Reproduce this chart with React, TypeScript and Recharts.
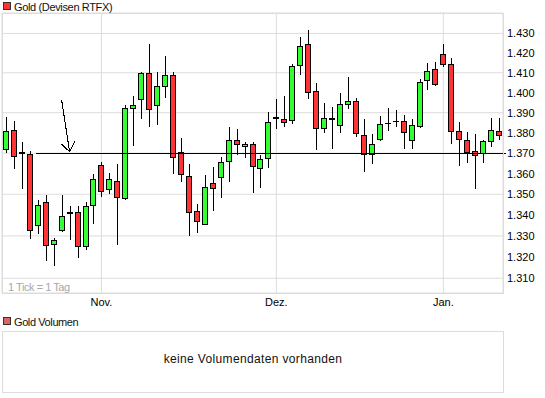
import React from "react";
import { ComposedChart, Bar, XAxis, YAxis, CartesianGrid, ReferenceLine } from "recharts";

const dates = [
  "14.10.", "15.10.", "18.10.", "19.10.", "20.10.", "21.10.", "22.10.", "25.10.", "26.10.", "27.10.", "28.10.", "29.10.",
  "01.11.", "02.11.", "03.11.", "04.11.", "05.11.", "08.11.", "09.11.", "10.11.", "11.11.", "12.11.", "15.11.", "16.11.",
  "17.11.", "18.11.", "19.11.", "22.11.", "23.11.", "24.11.", "25.11.", "26.11.", "29.11.", "30.11.",
  "01.12.", "02.12.", "03.12.", "06.12.", "07.12.", "08.12.", "09.12.", "10.12.", "13.12.", "14.12.", "15.12.", "16.12.",
  "17.12.", "20.12.", "21.12.", "22.12.", "23.12.", "27.12.", "28.12.", "29.12.", "30.12.",
  "03.01.", "04.01.", "05.01.", "06.01.", "07.01.", "10.01.", "11.01.", "12.01.",
];

const openP = [
  1.3722, 1.3812, 1.3707, 1.3697, 1.3353, 1.3461, 1.3263, 1.333, 1.3408, 1.3414, 1.3253, 1.3447,
  1.3644, 1.3527, 1.3566, 1.3482, 1.3921, 1.3966, 1.41, 1.3936, 1.4035, 1.409, 1.3705, 1.359,
  1.3419, 1.3358, 1.3556, 1.3585, 1.3663, 1.3767, 1.3737, 1.3747, 1.3629, 1.3677,
  1.3872, 1.3867, 1.3862, 1.4141, 1.4248, 1.401, 1.3822, 1.3873, 1.3837, 1.3944, 1.3959, 1.3787,
  1.3697, 1.3772, 1.3851, 1.3859, 1.3857, 1.3767, 1.3835, 1.4063, 1.412,
  1.4193, 1.4146, 1.3807, 1.3767, 1.3712, 1.37, 1.3758, 1.3807,
];
const highP = [
  1.3878, 1.3858, 1.3753, 1.3712, 1.347, 1.3495, 1.3289, 1.3495, 1.3444, 1.3443, 1.3463, 1.3597,
  1.3655, 1.3602, 1.3645, 1.3938, 1.3985, 1.4105, 1.4248, 1.4105, 1.4183, 1.4105, 1.3773, 1.3648,
  1.3453, 1.3592, 1.3631, 1.3679, 1.3828, 1.3818, 1.3753, 1.3753, 1.369, 1.3903,
  1.397, 1.3985, 1.4142, 1.4281, 1.4317, 1.4047, 1.3948, 1.3928, 1.3998, 1.408, 1.3974, 1.3868,
  1.3792, 1.3882, 1.3923, 1.3913, 1.3887, 1.3868, 1.407, 1.4149, 1.4154,
  1.4245, 1.4176, 1.3853, 1.3802, 1.3792, 1.3767, 1.3872, 1.3873,
];
const lowP = [
  1.37, 1.3623, 1.3526, 1.3285, 1.3309, 1.3181, 1.3156, 1.3319, 1.3281, 1.3194, 1.3232, 1.3356,
  1.3488, 1.35, 1.3258, 1.3472, 1.3735, 1.387, 1.383, 1.384, 1.3974, 1.3598, 1.356, 1.33,
  1.3314, 1.3352, 1.3417, 1.3482, 1.356, 1.369, 1.3676, 1.3506, 1.3529, 1.3627,
  1.382, 1.383, 1.3843, 1.4088, 1.3969, 1.3715, 1.38, 1.372, 1.38, 1.392, 1.378, 1.3608,
  1.3647, 1.376, 1.381, 1.383, 1.372, 1.372, 1.3823, 1.4013, 1.4033,
  1.4128, 1.3745, 1.3637, 1.365, 1.3524, 1.3653, 1.3732, 1.3767,
];
const closeP = [
  1.3808, 1.3687, 1.3702, 1.333, 1.3447, 1.3258, 1.3282, 1.3395, 1.3413, 1.3253, 1.3444, 1.3576,
  1.3518, 1.3576, 1.3487, 1.3921, 1.3936, 1.41, 1.3916, 1.4035, 1.409, 1.3682, 1.36, 1.3414,
  1.3372, 1.3537, 1.3532, 1.3658, 1.3767, 1.3747, 1.3747, 1.3635, 1.3673, 1.3852,
  1.3877, 1.3852, 1.4136, 1.4238, 1.4005, 1.3822, 1.3875, 1.3868, 1.3941, 1.3959, 1.3797, 1.3694,
  1.3747, 1.3842, 1.3851, 1.3859, 1.3802, 1.3837, 1.4055, 1.411, 1.4045,
  1.4146, 1.3807, 1.3772, 1.3707, 1.369, 1.3758, 1.3812, 1.379,
];

const yTicks = [1.31, 1.32, 1.33, 1.34, 1.35, 1.36, 1.37, 1.38, 1.39, 1.4, 1.41, 1.42, 1.43];
const yDomain = [1.3031, 1.4405];
const monthTicks = ["01.11.", "01.12.", "03.01."];
const monthLabels = ["Nov.", "Dez.", "Jan."];
const markerLevel = 1.37;
const arrowFrom = { date: "25.10.", price: 1.3963 };
const arrowTo = { date: "26.10.", price: 1.3707 };

const data = dates.map((d, i) => ({
  date: d,
  open: openP[i],
  high: highP[i],
  low: lowP[i],
  close: closeP[i],
}));

const FONT = '"Liberation Sans", Arial, Helvetica, sans-serif';
const UP = "#33ff33";
const DOWN = "#ff3333";
const GRID = "#dcdcdc";

function Candle(props: any) {
  const { x, y, width, height, payload } = props;
  if (!payload) return null;
  const { open, high, low, close } = payload;
  const top = Math.min(y, y + height);
  const h = Math.abs(height);
  const lh = Math.log(high);
  const lr = lh - Math.log(low);
  const toY = (v: number) => top + ((lh - Math.log(v)) / lr) * h;
  const cx = Math.round(x + width / 2);
  const left = cx - 3;
  const yTop = Math.round(toY(Math.max(open, close)));
  const yBot = Math.round(toY(Math.min(open, close)));
  const bH = yBot - yTop;
  const up = close >= open;
  return (
    <g shapeRendering="crispEdges">
      <line x1={cx + 0.5} x2={cx + 0.5} y1={Math.round(top)} y2={Math.round(top + h)} stroke="#000" strokeWidth={1} />
      {bH >= 1 ? (
        <rect x={left + 0.5} y={yTop + 0.5} width={5} height={bH} fill={up ? UP : DOWN} stroke="#000" strokeWidth={1} />
      ) : (
        <line x1={left} x2={left + 6} y1={yTop + 0.5} y2={yTop + 0.5} stroke="#000" strokeWidth={1} />
      )}
    </g>
  );
}

const monthFormatter = (v: string) => {
  const i = monthTicks.indexOf(v);
  return i >= 0 ? monthLabels[i] : "";
};

export default function App() {
  return (
    <div style={{ position: "absolute", left: 0, top: 0, width: 545, height: 398, background: "#fff", fontFamily: FONT }}>
      <div style={{ position: "absolute", left: 0, top: 0 }}>
        <ComposedChart
          width={545}
          height={320}
          data={data}
          margin={{ top: 13, right: 0, bottom: 0, left: 2 }}
          barCategoryGap={0}
        >
          <CartesianGrid stroke={GRID} strokeWidth={1} />
          <XAxis
            dataKey="date"
            ticks={monthTicks}
            interval={0}
            tickFormatter={monthFormatter}
            tickLine={false}
            axisLine={false}
            tickSize={0}
            tickMargin={5}
            height={27}
            tick={{ fontSize: 11, fill: "#000", fontFamily: FONT }}
          />
          <YAxis
            orientation="right"
            scale="log"
            domain={yDomain}
            ticks={yTicks}
            allowDataOverflow
            width={42}
            tickLine={false}
            axisLine={false}
            tickSize={0}
            tickMargin={4}
            tickFormatter={(v: number) => v.toFixed(3)}
            tick={{ fontSize: 11, fill: "#000", fontFamily: FONT, textAnchor: "start" }}
          />
          <Bar
            dataKey={(d: any) => [d.low, d.high]}
            isAnimationActive={false}
            shape={(p: any) => <Candle {...p} />}
          />
          <ReferenceLine
            y={markerLevel}
            ifOverflow="visible"
            shape={(p: any) => (
              <line
                x1={p.x1 + 3}
                x2={p.x2 + 34}
                y1={Math.round(p.y1) + 0.5}
                y2={Math.round(p.y2) + 0.5}
                stroke="#000"
                strokeWidth={1}
                shapeRendering="crispEdges"
              />
            )}
          />
          <ReferenceLine
            segment={[
              { x: arrowFrom.date, y: arrowFrom.price },
              { x: arrowTo.date, y: arrowTo.price },
            ]}
            ifOverflow="visible"
            shape={(p: any) => (
              <g stroke="#000" strokeWidth={1} fill="none" shapeRendering="crispEdges">
                <line x1={p.x1} y1={p.y1} x2={p.x2} y2={p.y2} />
                <line x1={p.x2} y1={p.y2} x2={p.x2 - 8} y2={p.y2 - 7.5} />
                <line x1={p.x2} y1={p.y2} x2={p.x2 + 5.5} y2={p.y2 - 11} />
              </g>
            )}
          />
        </ComposedChart>
      </div>
      <svg
        width={545}
        height={398}
        style={{ position: "absolute", left: 0, top: 0, pointerEvents: "none" }}
        fontFamily={FONT}
      >
        <rect x={2.5} y={13.5} width={501} height={280} fill="none" stroke={GRID} shapeRendering="crispEdges" />
        <rect x={3.5} y={2.5} width={7} height={7} fill={DOWN} stroke="#333" shapeRendering="crispEdges" />
        <text x={14} y={10.5} fontSize={11} fill="#111" style={{ letterSpacing: "-0.35px" }}>Gold (Devisen RTFX)</text>
        <text x={8} y={291} fontSize={11} fill="#a8a8a8" style={{ letterSpacing: "-0.45px" }}>1 Tick = 1 Tag</text>
        <rect x={3.5} y={317.5} width={7} height={7} fill="#dd6464" stroke="#333" shapeRendering="crispEdges" />
        <text x={14} y={325.5} fontSize={11} fill="#111" style={{ letterSpacing: "-0.4px" }}>Gold Volumen</text>
        <rect x={2.5} y={331.5} width={501} height={61} fill="none" stroke={GRID} shapeRendering="crispEdges" />
        <text x={253} y={363} fontSize={12} fill="#111" textAnchor="middle" style={{ letterSpacing: "0.35px" }}>keine Volumendaten vorhanden</text>
      </svg>
    </div>
  );
}
